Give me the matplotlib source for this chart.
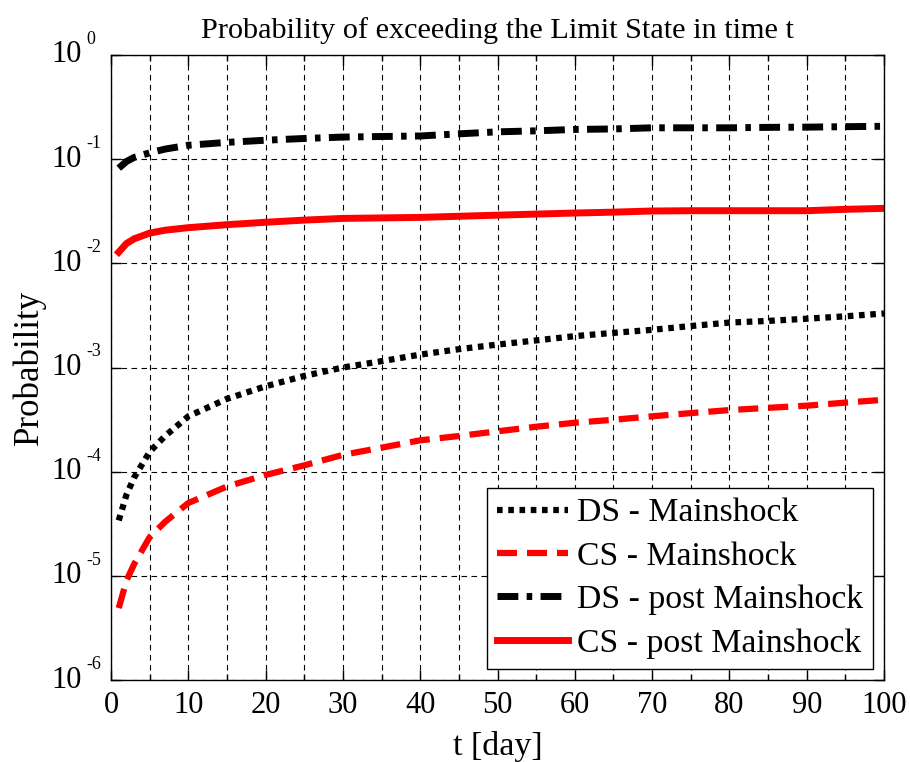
import matplotlib
matplotlib.use('Agg')
import matplotlib.pyplot as plt
from matplotlib.ticker import FixedLocator, MultipleLocator, NullFormatter

plt.rcParams['font.family'] = 'Liberation Serif'

# time in days
t = [1, 2, 3, 5, 7, 10, 15, 20, 25, 30, 35, 40, 45, 50, 55, 60, 65, 70, 75, 80, 85, 90, 95, 100]

ds_main = [3.4e-5, 6.0e-5, 8.8e-5, 1.55e-4, 2.2e-4, 3.4e-4, 5.0e-4, 6.6e-4, 8.3e-4, 1.0e-3,
           1.15e-3, 1.33e-3, 1.5e-3, 1.66e-3, 1.82e-3, 2.0e-3, 2.15e-3, 2.3e-3, 2.5e-3, 2.7e-3,
           2.8e-3, 2.94e-3, 3.1e-3, 3.3e-3]
cs_main = [4.9e-6, 9.0e-6, 1.3e-5, 2.35e-5, 3.3e-5, 5.0e-5, 7.2e-5, 9.3e-5, 1.15e-4, 1.45e-4,
           1.7e-4, 2.0e-4, 2.2e-4, 2.44e-4, 2.7e-4, 2.95e-4, 3.15e-4, 3.4e-4, 3.65e-4, 3.9e-4,
           4.1e-4, 4.3e-4, 4.6e-4, 4.9e-4]
ds_post = [0.082, 0.095, 0.104, 0.115, 0.125, 0.136, 0.145, 0.152, 0.158, 0.163,
           0.165, 0.167, 0.175, 0.183, 0.187, 0.193, 0.195, 0.2, 0.2, 0.2,
           0.202, 0.203, 0.205, 0.207]
cs_post = [0.0128, 0.0155, 0.0172, 0.0195, 0.0208, 0.022, 0.0235, 0.0248, 0.026, 0.027,
           0.0273, 0.0276, 0.0283, 0.029, 0.0297, 0.0304, 0.031, 0.0318, 0.032, 0.032,
           0.032, 0.032, 0.033, 0.0337]

exponents = [-6, -5, -4, -3, -2, -1, 0]

fig = plt.figure(figsize=(9.1, 7.62), dpi=100)
ax = fig.add_axes([111 / 910, 1 - 680 / 762, (884 - 111) / 910, (680 - 55) / 762])

ax.plot(t, ds_main, color='black', lw=4.5, linestyle=(0, (0.9, 0.9)), label='DS - Mainshock')
ax.plot(t, cs_main, color='red', lw=4.5, linestyle=(0, (3.2, 1.6)), label='CS - Mainshock')
ax.plot(t, ds_post, color='black', lw=5, linestyle=(0, (3.0, 1.2, 0.8, 1.2)), label='DS - post Mainshock')
ax.plot(t, cs_post, color='red', lw=5, linestyle='-', label='CS - post Mainshock')

ax.set_yscale('log')
ax.set_xlim(0, 100)
ax.set_ylim(1e-6, 1)
ax.xaxis.set_major_locator(MultipleLocator(10))
ax.xaxis.set_minor_locator(MultipleLocator(5))
ax.yaxis.set_major_locator(FixedLocator([10.0 ** e for e in exponents]))
ax.yaxis.set_minor_locator(FixedLocator([]))
ax.yaxis.set_major_formatter(NullFormatter())

# MATLAB-like "10^n" labels: base and raised small exponent
for e in exponents:
    ax.annotate('10', xy=(0, 10.0 ** e), xycoords=('axes fraction', 'data'),
                xytext=(-29, 0), textcoords='offset pixels', ha='right', va='center',
                fontsize=22, annotation_clip=False)
    ax.annotate('%d' % e, xy=(0, 10.0 ** e), xycoords=('axes fraction', 'data'),
                xytext=(-25, 11), textcoords='offset pixels', ha='left', va='baseline',
                fontsize=13, annotation_clip=False)

ax.grid(True, which='both', color='black', linestyle=(0, (5, 4)), lw=0.8)
ax.tick_params(which='both', direction='in', top=True, right=True, labelsize=22, width=1)
ax.tick_params(which='major', length=7)
ax.tick_params(which='minor', length=4)
ax.tick_params(axis='x', pad=8)
for s in ax.spines.values():
    s.set_linewidth(1)

ax.set_title('Probability of exceeding the Limit State in time t', fontsize=21.8, pad=12)
ax.set_xlabel('t [day]', fontsize=24.5, labelpad=8)
ax.set_ylabel('Probability', fontsize=25, labelpad=43)

leg = ax.legend(loc='lower right', fontsize=24.3, frameon=True, fancybox=False,
                edgecolor='black', framealpha=1, handlelength=2.1, borderpad=0.3,
                labelspacing=0.38, handletextpad=0.25, borderaxespad=0.33)
leg.get_frame().set_linewidth(1)

fig.savefig('out.png', dpi=100)
